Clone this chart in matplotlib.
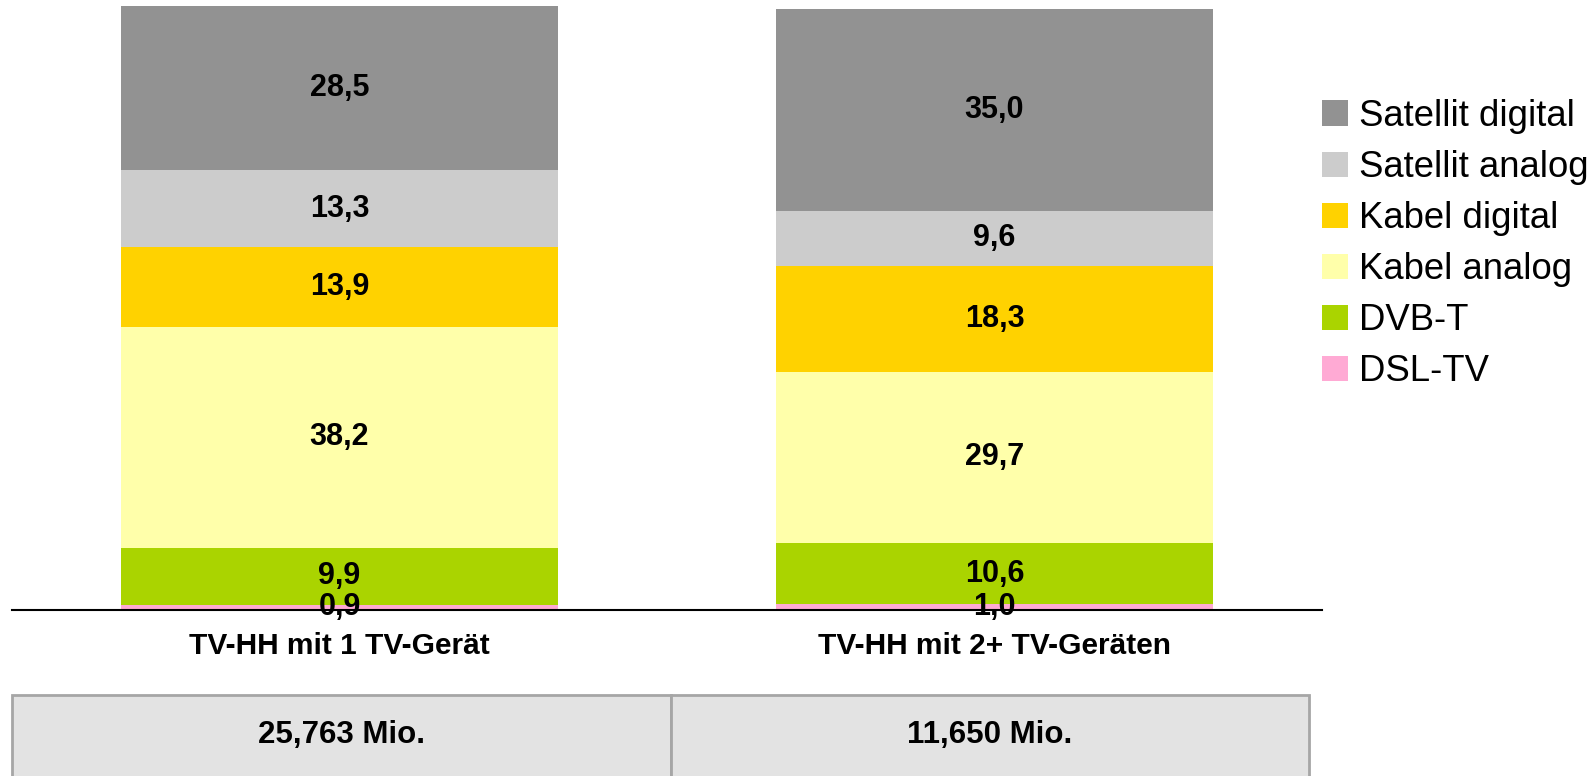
import matplotlib.pyplot as plt
from matplotlib.patches import Rectangle, Patch

plt.rcParams['font.family'] = ['Liberation Sans', 'DejaVu Sans']

# Data
groups = ['TV-HH mit 1 TV-Gerät', 'TV-HH mit 2+ TV-Geräten']
totals = ['25,763 Mio.', '11,650 Mio.']
series = ['DSL-TV', 'DVB-T', 'Kabel analog', 'Kabel digital', 'Satellit analog', 'Satellit digital']
dsl_tv = [0.9, 1.0]
dvb_t = [9.9, 10.6]
kabel_analog = [38.2, 29.7]
kabel_digital = [13.9, 18.3]
satellit_analog = [13.3, 9.6]
satellit_digital = [28.5, 35.0]
colors = ['#ffaad4', '#aad400', '#ffffaa', '#ffd200', '#cccccc', '#929292']

values = [dsl_tv, dvb_t, kabel_analog, kabel_digital, satellit_analog, satellit_digital]

W, H = 1595, 776
fig = plt.figure(figsize=(W / 100, H / 100), dpi=100)

# main axes: baseline at y=610 px, from x=12 to 1322 px
ax = fig.add_axes([12 / W, (H - 610) / H, 1310 / W, 610 / H])
x = range(len(groups))
bottoms = [0.0, 0.0]
handles = []
for name, vals, col in zip(series, values, colors):
    bars = ax.bar(x, vals, width=0.668, bottom=bottoms, color=col, edgecolor='none')
    for bar, v, b in zip(bars, vals, bottoms):
        ax.text(bar.get_x() + bar.get_width() / 2, b + v / 2,
                f'{v:.1f}'.replace('.', ','), ha='center', va='center',
                fontsize=22, fontweight='bold')
    bottoms = [b + v for b, v in zip(bottoms, vals)]
    handles.append(Patch(facecolor=col, label=name))

ax.set_xlim(-0.5, 1.5)
ax.set_ylim(0, 105.7)
for s in ['top', 'right', 'left']:
    ax.spines[s].set_visible(False)
ax.spines['bottom'].set_linewidth(1.5)
ax.set_yticks([])
ax.set_xticks(list(x))
ax.set_xticklabels(groups, fontsize=21.5, fontweight='bold')
ax.tick_params(axis='x', length=0, pad=16)

# legend (top entry = Satellit digital)
fig.legend(handles[::-1], series[::-1], loc='upper left',
           bbox_to_anchor=(1322 / W, 1 - 99 / H), frameon=False,
           fontsize=26.3, handlelength=0.7, handleheight=0.7,
           handletextpad=0.3, labelspacing=0.44, borderpad=0, borderaxespad=0)

# table with the totals
tax = fig.add_axes([0, 0, 1, 1])
tax.set_xlim(0, W)
tax.set_ylim(H, 0)
tax.axis('off')
col_edges = [12, 671, 1309]
for i, txt in enumerate(totals):
    tax.add_patch(Rectangle((col_edges[i], 695), col_edges[i + 1] - col_edges[i], 100,
                            facecolor='#e3e3e3', edgecolor='#a6a6a6', linewidth=2))
    tax.text((col_edges[i] + col_edges[i + 1]) / 2, 735, txt, ha='center', va='center',
             fontsize=22.5, fontweight='bold')

fig.savefig('out.png', dpi=100)
